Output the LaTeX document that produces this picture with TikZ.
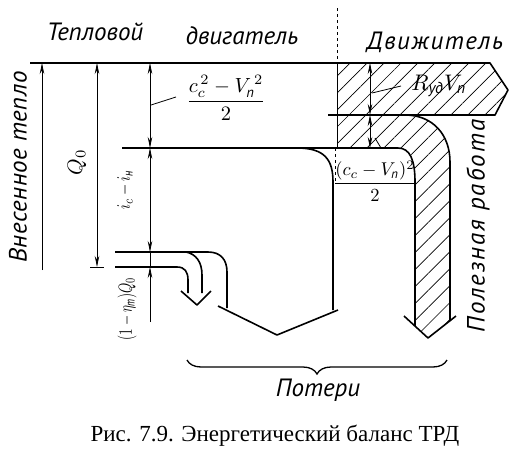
\documentclass[tikz,border=0pt]{standalone}
\usepackage{fontspec}
\usepackage{amsmath}
\usepackage{graphicx}
\setmainfont{PT Sans}
\newfontfamily\capfont{Liberation Serif}
\usetikzlibrary{arrows.meta,patterns.meta,decorations.pathreplacing}
\newcommand{\mybigmath}[2][2.0]{\scalebox{#1}{\itshape #2}}
\newcommand{\mynarrowmath}[2][1.3]{\scalebox{#1}[1.9]{\itshape #2}}
\begin{document}
\begin{tikzpicture}[x=1pt,y=-1pt,
  outl/.style={line width=1.6pt, line join=round},
  dim/.style={line width=0.8pt},
  tp/.style={-{Stealth[length=11pt,width=4.5pt]}},
  tpb/.style={{Stealth[length=11pt,width=4.5pt]}-{Stealth[length=11pt,width=4.5pt]}},
  lbl/.style={font=\fontsize{25}{28}\selectfont\itshape, inner sep=0pt},
  mlbl/.style={inner sep=0pt},
  hatch/.style={pattern={Lines[angle=45,distance=12pt,line width=0.7pt]}}
]
\useasboundingbox (0,0) rectangle (525,464);
\fill[white] (0,0) rectangle (525,464);

% hatched region
\fill[hatch] (337,63) -- (490,63) -- (508,90) -- (495,115) -- (405,115)
  .. controls (433,115) and (450,135) .. (450,162) -- (450,320)
  -- (428,338) -- (415,326) -- (415,182)
  .. controls (415,160) and (410,148) .. (398,148) -- (337,148) -- cycle;

% coordinates
\coordinate (tl) at (30,63);
\coordinate (tr) at (490,63);
\coordinate (tip) at (508,90);
\coordinate (lr) at (495,115);
\coordinate (ll) at (328,115);

% main outlines
\draw[outl] (tl) -- (tr) -- (tip) -- (lr) -- (ll);
\draw[outl] (122,148) -- (398,148) .. controls (410,148) and (415,160) .. (415,182) -- (415,326);
\draw[outl] (405,115) .. controls (433,115) and (450,135) .. (450,162) -- (450,321);
\draw[outl] (456,316) -- (428,338) -- (404,316);
\draw[dashed, line width=1pt] (337,8) -- (337,63);
\draw[line width=1pt] (337,63) -- (337,148);
\draw[dashed, line width=0.8pt] (335,148) -- (335,182);

% losses box
\draw[outl] (297,148) .. controls (325,148) and (333,160) .. (333,182) -- (333,310);
\draw[outl] (218,306) -- (277,335) -- (338,310);
\draw[outl] (115,252) -- (208,252) .. controls (221,252) and (227,260) .. (227,272) -- (227,308);
% small loss arrow
\draw[outl] (115,267) -- (177,267) .. controls (185,267) and (188,272) .. (188,280) -- (188,293);
\draw[outl] (186,252) .. controls (196,254) and (202,262) .. (202,275) -- (202,293);
\draw[outl] (181,291) -- (197,305) -- (211,291);

% dimension lines
\draw[dim,tp] (42,270) -- (42,63);
\draw[dim,tpb] (97,63) -- (97,267);
\draw[dim] (90,267) -- (104,267);
\draw[dim,tpb] (150,63) -- (150,148);
\draw[dim,tpb] (150,148) -- (150,252);
\draw[dim] (150,252) -- (150,267);
\draw[dim,tp] (150,322) -- (150,267);
\draw[dim] (151,105) -- (176,97);
\draw[dim,tpb] (370,63) -- (370,115);
\draw[dim,tpb] (370,115) -- (370,148);
\draw[dim] (372,93) -- (401,86);
\draw[dim] (375,138) -- (381,148);

% texts
\node[lbl] (t1) at (95,32) {Тепловой};
\node[lbl] (t2) at (242,36) {двигатель};
\node[lbl] (t3) at (435,42) {\addfontfeature{LetterSpace=6}Движитель};
\node[lbl, rotate=90] (t4) at (18,167) {\addfontfeature{LetterSpace=2}Внесенное тепло};
\node[lbl, rotate=90] (t5) at (478,226) {\addfontfeature{LetterSpace=8}Полезная работа};
\node[lbl] (t6) at (318,390) {Потери};
\node[mlbl, rotate=90] (q0) at (77,162) {\mybigmath[2.1]{$Q_0$}};
\node[mlbl, rotate=90] (ici) at (125,190) {\mynarrowmath[1.45]{$i_c-i_{\text{н}}$}};
\node[mlbl, rotate=90] (eta) at (127,309) {\mynarrowmath[1.3]{$(1-\eta_{\text{т}})Q_0$}};
\node[mlbl] (kin) at (226,98) {\mybigmath[2.05]{$\dfrac{c_c^{\,2}-V_{\text{п}}^{\,2}}{2}$}};
\node[mlbl] (rv) at (439,86) {\mybigmath[2.25]{$R_{\text{уд}}V_{\text{п}}$}};
\node[mlbl] (ex) at (375,181) {\mybigmath[1.85]{$\dfrac{(c_c-V_{\text{п}})^2}{2}$}};
\node[inner sep=0pt, font=\capfont\fontsize{23}{27}\selectfont] (cap) at (275,436) {Рис. 7.9. Энергетический баланс ТРД};

% brace
\draw[line width=1.3pt, decorate, decoration={brace, mirror, amplitude=14pt}] (187,360) -- (447,360);
\end{tikzpicture}
\end{document}
